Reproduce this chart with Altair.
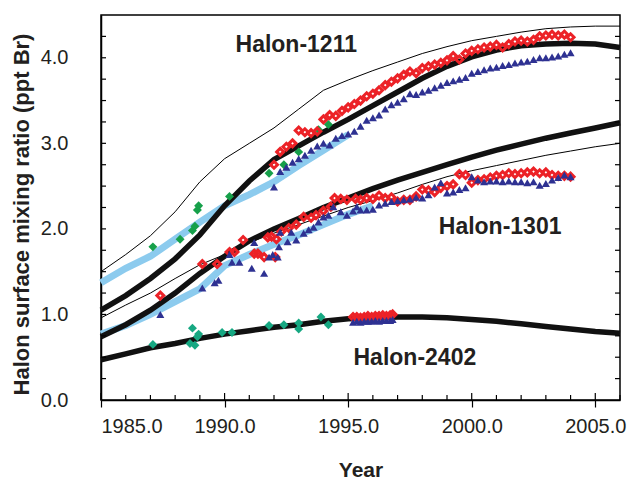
import altair as alt
import pandas as pd

# ---------------- data ----------------
YEARS = [1985, 1986, 1987, 1988, 1989, 1990, 1991, 1992, 1993, 1994, 1995,
         1996, 1997, 1998, 1999, 2000, 2001, 2002, 2003, 2004, 2005, 2006]

# model / scenario curves (thick black)
H1211_MODEL = [1.05, 1.22, 1.42, 1.65, 1.93, 2.27, 2.56, 2.81, 2.97, 3.13, 3.28,
               3.44, 3.60, 3.76, 3.90, 4.01, 4.09, 4.14, 4.16, 4.17, 4.16, 4.12]
H1301_MODEL = [0.74, 0.88, 1.05, 1.25, 1.48, 1.68, 1.86, 2.00, 2.12, 2.25, 2.36,
               2.47, 2.57, 2.66, 2.75, 2.84, 2.92, 2.99, 3.06, 3.12, 3.18, 3.24]
H2402_MODEL = [0.47, 0.54, 0.61, 0.66, 0.72, 0.77, 0.81, 0.85, 0.88, 0.92, 0.95,
               0.96, 0.97, 0.97, 0.96, 0.94, 0.92, 0.89, 0.86, 0.83, 0.80, 0.78]

# thin black bounds
H1211_THIN = [1.50, 1.70, 1.92, 2.20, 2.55, 2.82, 3.00, 3.18, 3.40, 3.62, 3.74,
              3.85, 3.95, 4.05, 4.13, 4.20, 4.25, 4.30, 4.34, 4.36, 4.37, 4.37]
H1301_THIN = [0.96, 1.11, 1.25, 1.42, 1.58, 1.70, 1.84, 1.95, 2.05, 2.15, 2.25,
              2.33, 2.42, 2.52, 2.61, 2.68, 2.74, 2.80, 2.86, 2.91, 2.96, 3.00]

# light blue curves
LB_YEARS_1211 = [1985, 1986, 1987, 1988, 1989, 1990, 1991, 1992, 1993, 1994, 1995]
LB_1211 = [1.37, 1.54, 1.68, 1.88, 2.08, 2.27, 2.40, 2.55, 2.74, 2.92, 3.10]
LB_YEARS_1301 = [1985, 1986, 1987, 1988, 1989, 1990, 1991, 1992, 1993, 1994, 1995, 1996]
LB_1301 = [0.77, 0.87, 1.00, 1.15, 1.30, 1.57, 1.70, 1.82, 1.93, 2.05, 2.17, 2.27]

# green diamonds (Halon-1211 early data)
GREEN_X = [1987.1, 1988.2, 1988.7, 1988.8, 1988.9, 1988.95, 1990.2, 1991.8, 1992.4, 1993.0, 1993.8, 1994.2]
GREEN_Y = [1.79, 1.88, 1.98, 2.03, 2.22, 2.27, 2.38, 2.65, 2.75, 2.90, 3.16, 3.22]

# teal diamonds (Halon-2402 early data)
TEAL_X = [1987.1, 1988.6, 1988.7, 1988.8, 1988.9, 1988.95, 1989.9, 1990.3, 1991.8, 1992.4, 1993.0, 1993.0, 1993.9, 1994.2]
TEAL_Y = [0.65, 0.66, 0.84, 0.64, 0.74, 0.77, 0.79, 0.79, 0.87, 0.88, 0.90, 0.83, 0.97, 0.88]

# red diamonds
RED_1211_X = [1992.0, 1992.25, 1992.5, 1992.75, 1993.0, 1993.25, 1993.5, 1993.75, 1994.0, 1994.25,
              1994.5, 1994.75, 1995.0, 1995.25, 1995.5, 1995.75, 1996.0, 1996.25, 1996.5, 1996.75,
              1997.0, 1997.25, 1997.5, 1997.75, 1998.0, 1998.25, 1998.5, 1998.75, 1999.0, 1999.25,
              1999.5, 1999.75, 2000.0, 2000.25, 2000.5, 2000.75, 2001.0, 2001.25, 2001.5, 2001.75,
              2002.0, 2002.25, 2002.5, 2002.75, 2003.0, 2003.25, 2003.5, 2003.75, 2004.0]
RED_1211_Y = [2.75, 2.90, 2.96, 3.00, 3.15, 3.13, 3.12, 3.14, 3.28, 3.33,
              3.32, 3.38, 3.42, 3.46, 3.50, 3.55, 3.58, 3.62, 3.68, 3.72,
              3.76, 3.80, 3.84, 3.82, 3.88, 3.90, 3.92, 3.94, 3.97, 4.02,
              3.98, 4.05, 4.08, 4.10, 4.12, 4.13, 4.15, 4.12, 4.16, 4.19,
              4.20, 4.19, 4.21, 4.25, 4.26, 4.27, 4.26, 4.27, 4.24]
RED_1301_X = [1987.4, 1989.1, 1989.7, 1990.2, 1990.4, 1990.75, 1991.2, 1991.35, 1991.6, 1991.75,
              1991.9, 1992.1, 1992.05, 1992.3, 1992.6, 1992.9, 1993.2, 1993.5, 1993.7, 1994.0,
              1994.3, 1994.45, 1994.7, 1994.95, 1995.3, 1995.5, 1995.75, 1996.0, 1996.25, 1996.5,
              1996.75, 1997.0, 1997.25, 1997.5, 1997.75, 1998.0, 1998.25, 1998.5, 1998.75, 1999.0,
              1999.25, 1999.5, 1999.75, 2000.0, 2000.25, 2000.5, 2000.75, 2001.0, 2001.25, 2001.5,
              2001.75, 2002.0, 2002.25, 2002.5, 2002.75, 2003.0, 2003.25, 2003.5, 2003.75, 2004.0]
RED_1301_Y = [1.22, 1.59, 1.59, 1.73, 1.73, 1.87, 1.71, 1.71, 1.67, 1.90,
              1.91, 1.88, 1.67, 1.97, 2.01, 2.05, 2.14, 2.13, 2.16, 2.21,
              2.26, 2.36, 2.35, 2.34, 2.35, 2.34, 2.36, 2.35, 2.39, 2.36,
              2.37, 2.32, 2.34, 2.34, 2.38, 2.46, 2.45, 2.43, 2.48, 2.50,
              2.52, 2.64, 2.63, 2.54, 2.57, 2.58, 2.60, 2.62, 2.63, 2.65,
              2.64, 2.65, 2.66, 2.67, 2.65, 2.66, 2.63, 2.62, 2.62, 2.61]
RED_2402_X = [1995.2, 1995.35, 1995.5, 1995.65, 1995.8, 1995.95, 1996.1, 1996.25, 1996.4, 1996.55, 1996.7, 1996.8]
RED_2402_Y = [0.97, 0.97, 0.96, 0.97, 0.98, 0.97, 0.98, 0.98, 0.99, 0.98, 0.99, 1.00]

# blue triangles
BLUE_1211_X = RED_1211_X
BLUE_1211_Y = [2.49, 2.67, 2.72, 2.78, 2.82, 2.86, 2.92, 2.97, 3.00, 2.98,
               3.06, 3.09, 3.11, 3.14, 3.20, 3.27, 3.30, 3.33, 3.40, 3.45,
               3.48, 3.52, 3.58, 3.57, 3.60, 3.62, 3.65, 3.68, 3.71, 3.73,
               3.75, 3.77, 3.82, 3.84, 3.86, 3.88, 3.89, 3.91, 3.92, 3.94,
               3.95, 3.96, 3.98, 4.00, 4.00, 4.01, 4.02, 4.04, 4.06]
BLUE_1301_X = [1987.4, 1989.1, 1989.6, 1989.75, 1990.2, 1990.3, 1990.6, 1991.1, 1991.2, 1991.6,
               1991.8, 1991.95, 1992.15, 1992.2, 1992.25, 1992.55, 1992.7, 1992.9, 1993.2, 1993.4,
               1993.6, 1993.8, 1994.0, 1994.2, 1994.4, 1994.7, 1994.95, 1995.2, 1995.35, 1995.5,
               1995.75, 1996.0, 1996.25, 1996.5, 1996.75, 1997.0, 1997.25, 1997.5, 1997.75, 1998.0,
               1998.25, 1998.5, 1998.75, 1999.0, 1999.25, 1999.5, 1999.75, 2000.0, 2000.25, 2000.5,
               2000.75, 2001.0, 2001.25, 2001.5, 2001.75, 2002.0, 2002.25, 2002.5, 2002.75, 2003.0,
               2003.25, 2003.5, 2003.75, 2004.0]
BLUE_1301_Y = [1.00, 1.31, 1.37, 1.40, 1.70, 1.61, 1.61, 1.54, 1.84, 1.48,
               1.67, 1.70, 1.67, 1.79, 1.96, 1.85, 1.96, 1.87, 1.95, 1.99,
               2.02, 2.08, 2.14, 2.16, 2.26, 2.20, 2.16, 2.21, 2.26, 2.22,
               2.22, 2.23, 2.28, 2.30, 2.32, 2.33, 2.34, 2.35, 2.37, 2.36,
               2.40, 2.49, 2.54, 2.42, 2.43, 2.46, 2.48, 2.61, 2.57, 2.55,
               2.56, 2.56, 2.55, 2.56, 2.55, 2.55, 2.54, 2.55, 2.51, 2.53,
               2.57, 2.60, 2.63, 2.61]
BLUE_2402_X = RED_2402_X
BLUE_2402_Y = [0.91, 0.92, 0.91, 0.92, 0.92, 0.92, 0.93, 0.92, 0.93, 0.93, 0.93, 0.94]

# labels
LABELS = ["Halon-1211", "Halon-1301", "Halon-2402"]
LABEL_X = [1992.9, 2001.15, 1997.7]
LABEL_Y = [4.15, 2.02, 0.49]

X_MAJOR = [1985, 1990, 1995, 2000, 2005]
X_MINOR = [1986, 1987, 1988, 1989, 1991, 1992, 1993, 1994, 1996, 1997, 1998, 1999,
           2001, 2002, 2003, 2004, 2006]
Y_LABELS = [0, 1, 2, 3, 4]
Y_TICKS = [0.25, 0.5, 0.75, 1.0, 1.25, 1.5, 1.75, 2.0, 2.25, 2.5, 2.75, 3.0,
           3.25, 3.5, 3.75, 4.0, 4.25]

# ---------------- frames ----------------
def long(xs, ys, name):
    return pd.DataFrame({"year": xs, "value": ys, "series": name})

thick = pd.concat([long(YEARS, H1211_MODEL, "m1211"), long(YEARS, H1301_MODEL, "m1301"),
                   long(YEARS, H2402_MODEL, "m2402")])
thin = pd.concat([long(YEARS, H1211_THIN, "t1211"), long(YEARS, H1301_THIN, "t1301")])
lblue = pd.concat([long(LB_YEARS_1211, LB_1211, "l1211"), long(LB_YEARS_1301, LB_1301, "l1301")])
green = long(GREEN_X, GREEN_Y, "g")
teal = long(TEAL_X, TEAL_Y, "t")
red = pd.concat([long(RED_1211_X, RED_1211_Y, "r1211"), long(RED_1301_X, RED_1301_Y, "r1301"),
                 long(RED_2402_X, RED_2402_Y, "r2402")])
blue = pd.concat([long(BLUE_1211_X, BLUE_1211_Y, "b1211"), long(BLUE_1301_X, BLUE_1301_Y, "b1301"),
                  long(BLUE_2402_X, BLUE_2402_Y, "b2402")])
labels = pd.DataFrame({"label": LABELS, "year": LABEL_X, "value": LABEL_Y})

W, H = 519, 385
FONT = "Liberation Sans"
INK = "#231f20"

xscale = alt.Scale(domain=[1985, 2006], nice=False, zero=False)
yscale = alt.Scale(domain=[0, 4.5], nice=False, zero=True)

X = alt.X("year:Q", scale=xscale,
          axis=alt.Axis(values=X_MAJOR, format=".1f", title="Year", grid=False,
                        labelFontSize=20, labelFont=FONT, labelColor=INK,
                        tickSize=7, tickColor="black", tickWidth=1.2, labelPadding=9,
                        domainColor="black", domainWidth=1.5,
                        titleFont=FONT, titleFontSize=21, titleFontWeight="bold", titleColor=INK,
                        titleX=W / 2, titleY=70, titleBaseline="middle", titleAlign="center"))
Y = alt.Y("value:Q", scale=yscale,
          axis=alt.Axis(values=Y_LABELS, format=".1f",
                        title="Halon surface mixing ratio (ppt Br)", grid=False,
                        labelFontSize=20, labelFont=FONT, labelColor=INK,
                        ticks=False, labelPadding=33,
                        domainColor="black", domainWidth=1.5,
                        titleFont=FONT, titleFontSize=22, titleFontWeight="bold", titleColor=INK,
                        titleAngle=-90, titleX=-80, titleY=199,
                        titleBaseline="middle", titleAlign="center"))

thin_l = alt.Chart(thin).mark_line(color="black", strokeWidth=1).encode(x=X, y=Y, detail="series:N")
lblue_l = alt.Chart(lblue).mark_line(color="#8ccbee", strokeWidth=7).encode(x=X, y=Y, detail="series:N")
thick_l = alt.Chart(thick).mark_line(color="#111111", strokeWidth=5.5).encode(x=X, y=Y, detail="series:N")

green_p = alt.Chart(green).mark_point(shape="diamond", filled=True, color="#16a04a", size=80, opacity=1).encode(x=X, y=Y)
teal_p = alt.Chart(teal).mark_point(shape="diamond", filled=True, color="#16a882", size=80, opacity=1).encode(x=X, y=Y)
blue_p = alt.Chart(blue).mark_point(shape="triangle-up", filled=True, color="#2e3192", size=65, opacity=1).encode(x=X, y=Y)
red_p = alt.Chart(red).mark_point(shape="diamond", filled=False, color="#ec2227", size=48, strokeWidth=3, opacity=1).encode(x=X, y=Y)

text = alt.Chart(labels).mark_text(font=FONT, fontSize=23, fontWeight="bold", color=INK,
                                   align="center", baseline="middle").encode(x=X, y=Y, text="label:N")

xmaj = alt.Chart(pd.DataFrame({"year": X_MAJOR})).mark_rule(color="black", strokeWidth=1.2).encode(
    x=alt.X("year:Q", scale=xscale), y=alt.value(H), y2=alt.value(H - 7))
xmin = alt.Chart(pd.DataFrame({"year": X_MINOR})).mark_rule(color="black", strokeWidth=1.2).encode(
    x=alt.X("year:Q", scale=xscale), y=alt.value(H), y2=alt.value(H - 5))
yl = alt.Chart(pd.DataFrame({"value": Y_TICKS})).mark_rule(color="black", strokeWidth=1.2).encode(
    y=alt.Y("value:Q", scale=yscale), x=alt.value(0), x2=alt.value(5))
yr = alt.Chart(pd.DataFrame({"value": Y_TICKS})).mark_rule(color="black", strokeWidth=1.2).encode(
    y=alt.Y("value:Q", scale=yscale), x=alt.value(W), x2=alt.value(W - 5))

chart = alt.layer(
    thin_l, lblue_l, thick_l, green_p, teal_p, red_p, blue_p, text, xmaj, xmin, yl, yr
).properties(
    width=W, height=H,
    autosize=alt.AutoSizeParams(type="none"),
    padding={"left": 101, "top": 15, "right": 12, "bottom": 86},
    background="white",
).configure_view(stroke="black", strokeWidth=1.5)

chart.save("out.html", embed_options={"renderer": "svg", "actions": False})
